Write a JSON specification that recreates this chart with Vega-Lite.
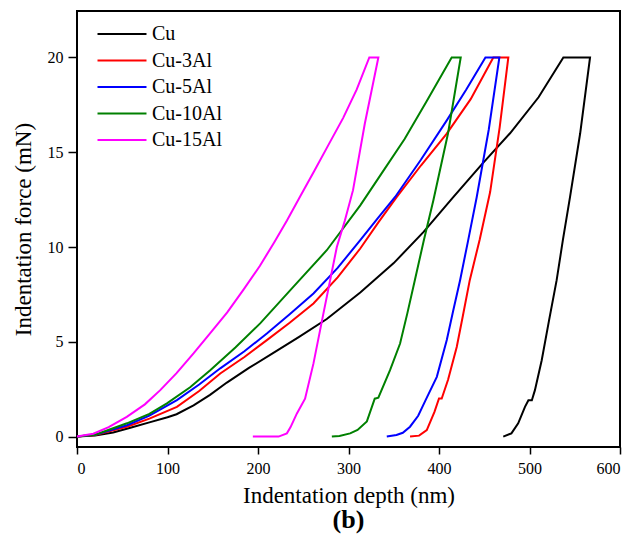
{
  "$schema": "https://vega.github.io/schema/vega-lite/v6.json",
  "width": 543,
  "height": 436,
  "autosize": "none",
  "padding": {"left": 77, "top": 11, "right": 13, "bottom": 96},
  "background": "white",
  "title": {"text": "(b)", "orient": "bottom", "anchor": "middle", "font": "Liberation Serif", "fontSize": 26, "fontWeight": "bold", "color": "black", "offset": 0},
  "config": {
    "view": {"stroke": "black", "strokeWidth": 2},
    "axis": {"labelFont": "Liberation Serif", "titleFont": "Liberation Serif", "labelColor": "black", "titleColor": "black", "tickColor": "black", "labelFontSize": 16, "titleFontSize": 23, "titleFontWeight": "normal", "grid": false, "domain": false, "tickWidth": 1.5}
  },
  "datasets": {
    "curves": [
      {"s":"Cu","i":0,"x":0,"y":0},{"s":"Cu","i":1,"x":20,"y":0.06},{"s":"Cu","i":2,"x":40,"y":0.22},{"s":"Cu","i":3,"x":60,"y":0.48},{"s":"Cu","i":4,"x":80,"y":0.75},{"s":"Cu","i":5,"x":100,"y":1.02},{"s":"Cu","i":6,"x":110,"y":1.18},{"s":"Cu","i":7,"x":128.8,"y":1.65},{"s":"Cu","i":8,"x":147,"y":2.2},{"s":"Cu","i":9,"x":165.6,"y":2.85},{"s":"Cu","i":10,"x":190,"y":3.62},{"s":"Cu","i":11,"x":217,"y":4.42},{"s":"Cu","i":12,"x":245,"y":5.25},{"s":"Cu","i":13,"x":276,"y":6.2},{"s":"Cu","i":14,"x":313,"y":7.6},{"s":"Cu","i":15,"x":350,"y":9.15},{"s":"Cu","i":16,"x":383,"y":10.8},{"s":"Cu","i":17,"x":416,"y":12.64},{"s":"Cu","i":18,"x":448,"y":14.4},{"s":"Cu","i":19,"x":478.5,"y":16.0},{"s":"Cu","i":20,"x":510,"y":17.9},{"s":"Cu","i":21,"x":537.4,"y":20},{"s":"Cu","i":22,"x":566.9,"y":20},{"s":"Cu","i":23,"x":556,"y":16.0},{"s":"Cu","i":24,"x":544.8,"y":12.64},{"s":"Cu","i":25,"x":537,"y":10.4},{"s":"Cu","i":26,"x":530,"y":8.25},{"s":"Cu","i":27,"x":521.5,"y":6.1},{"s":"Cu","i":28,"x":513.5,"y":4.03},{"s":"Cu","i":29,"x":506,"y":2.45},{"s":"Cu","i":30,"x":502.6,"y":1.92},{"s":"Cu","i":31,"x":498.8,"y":1.92},{"s":"Cu","i":32,"x":495,"y":1.57},{"s":"Cu","i":33,"x":487.5,"y":0.7},{"s":"Cu","i":34,"x":480,"y":0.17},{"s":"Cu","i":35,"x":471,"y":0},
      {"s":"Cu-3Al","i":0,"x":0,"y":0},{"s":"Cu-3Al","i":1,"x":20,"y":0.08},{"s":"Cu-3Al","i":2,"x":55.2,"y":0.52},{"s":"Cu-3Al","i":3,"x":80,"y":0.95},{"s":"Cu-3Al","i":4,"x":110.4,"y":1.57},{"s":"Cu-3Al","i":5,"x":135,"y":2.4},{"s":"Cu-3Al","i":6,"x":158.3,"y":3.33},{"s":"Cu-3Al","i":7,"x":185,"y":4.2},{"s":"Cu-3Al","i":8,"x":209.8,"y":5.09},{"s":"Cu-3Al","i":9,"x":235,"y":6.0},{"s":"Cu-3Al","i":10,"x":261.3,"y":7.02},{"s":"Cu-3Al","i":11,"x":288,"y":8.4},{"s":"Cu-3Al","i":12,"x":313,"y":9.92},{"s":"Cu-3Al","i":13,"x":333,"y":11.3},{"s":"Cu-3Al","i":14,"x":353.4,"y":12.64},{"s":"Cu-3Al","i":15,"x":380,"y":14.3},{"s":"Cu-3Al","i":16,"x":408.6,"y":15.98},{"s":"Cu-3Al","i":17,"x":435,"y":17.8},{"s":"Cu-3Al","i":18,"x":460,"y":20},{"s":"Cu-3Al","i":19,"x":476.6,"y":20},{"s":"Cu-3Al","i":20,"x":467,"y":16.3},{"s":"Cu-3Al","i":21,"x":456.5,"y":12.9},{"s":"Cu-3Al","i":22,"x":445,"y":10.4},{"s":"Cu-3Al","i":23,"x":434,"y":8.25},{"s":"Cu-3Al","i":24,"x":426.5,"y":6.4},{"s":"Cu-3Al","i":25,"x":419.6,"y":4.73},{"s":"Cu-3Al","i":26,"x":410,"y":3.0},{"s":"Cu-3Al","i":27,"x":403,"y":2.01},{"s":"Cu-3Al","i":28,"x":400,"y":2.01},{"s":"Cu-3Al","i":29,"x":395,"y":1.3},{"s":"Cu-3Al","i":30,"x":386.5,"y":0.34},{"s":"Cu-3Al","i":31,"x":378,"y":0.05},{"s":"Cu-3Al","i":32,"x":368,"y":0},
      {"s":"Cu-5Al","i":0,"x":0,"y":0},{"s":"Cu-5Al","i":1,"x":20,"y":0.09},{"s":"Cu-5Al","i":2,"x":55.2,"y":0.6},{"s":"Cu-5Al","i":3,"x":80,"y":1.1},{"s":"Cu-5Al","i":4,"x":110.4,"y":1.92},{"s":"Cu-5Al","i":5,"x":135,"y":2.75},{"s":"Cu-5Al","i":6,"x":158.3,"y":3.6},{"s":"Cu-5Al","i":7,"x":185,"y":4.5},{"s":"Cu-5Al","i":8,"x":209.8,"y":5.44},{"s":"Cu-5Al","i":9,"x":235,"y":6.45},{"s":"Cu-5Al","i":10,"x":261.3,"y":7.55},{"s":"Cu-5Al","i":11,"x":288,"y":8.9},{"s":"Cu-5Al","i":12,"x":313,"y":10.36},{"s":"Cu-5Al","i":13,"x":332,"y":11.5},{"s":"Cu-5Al","i":14,"x":351.5,"y":12.64},{"s":"Cu-5Al","i":15,"x":380,"y":14.6},{"s":"Cu-5Al","i":16,"x":408.6,"y":16.68},{"s":"Cu-5Al","i":17,"x":430,"y":18.3},{"s":"Cu-5Al","i":18,"x":451.3,"y":20},{"s":"Cu-5Al","i":19,"x":466.7,"y":20},{"s":"Cu-5Al","i":20,"x":455,"y":16.2},{"s":"Cu-5Al","i":21,"x":441.7,"y":12.64},{"s":"Cu-5Al","i":22,"x":432,"y":10.3},{"s":"Cu-5Al","i":23,"x":423.3,"y":8.25},{"s":"Cu-5Al","i":24,"x":415.5,"y":6.6},{"s":"Cu-5Al","i":25,"x":408.6,"y":5.09},{"s":"Cu-5Al","i":26,"x":397.6,"y":3.15},{"s":"Cu-5Al","i":27,"x":385.2,"y":1.92},{"s":"Cu-5Al","i":28,"x":377,"y":1.1},{"s":"Cu-5Al","i":29,"x":368,"y":0.52},{"s":"Cu-5Al","i":30,"x":360,"y":0.2},{"s":"Cu-5Al","i":31,"x":353,"y":0.08},{"s":"Cu-5Al","i":32,"x":342.3,"y":0},
      {"s":"Cu-10Al","i":0,"x":0,"y":0},{"s":"Cu-10Al","i":1,"x":20,"y":0.1},{"s":"Cu-10Al","i":2,"x":55.2,"y":0.7},{"s":"Cu-10Al","i":3,"x":80,"y":1.2},{"s":"Cu-10Al","i":4,"x":99.4,"y":1.75},{"s":"Cu-10Al","i":5,"x":125,"y":2.6},{"s":"Cu-10Al","i":6,"x":147.2,"y":3.5},{"s":"Cu-10Al","i":7,"x":175,"y":4.7},{"s":"Cu-10Al","i":8,"x":202.4,"y":5.97},{"s":"Cu-10Al","i":9,"x":239,"y":7.9},{"s":"Cu-10Al","i":10,"x":276,"y":9.83},{"s":"Cu-10Al","i":11,"x":313,"y":12.2},{"s":"Cu-10Al","i":12,"x":336.8,"y":13.9},{"s":"Cu-10Al","i":13,"x":362,"y":15.7},{"s":"Cu-10Al","i":14,"x":386.5,"y":17.7},{"s":"Cu-10Al","i":15,"x":414,"y":20},{"s":"Cu-10Al","i":16,"x":424,"y":20},{"s":"Cu-10Al","i":17,"x":410,"y":16.0},{"s":"Cu-10Al","i":18,"x":393.8,"y":12.47},{"s":"Cu-10Al","i":19,"x":383,"y":10.3},{"s":"Cu-10Al","i":20,"x":373.3,"y":8.25},{"s":"Cu-10Al","i":21,"x":365,"y":6.5},{"s":"Cu-10Al","i":22,"x":357,"y":4.91},{"s":"Cu-10Al","i":23,"x":345.9,"y":3.5},{"s":"Cu-10Al","i":24,"x":333,"y":2.05},{"s":"Cu-10Al","i":25,"x":329,"y":2.0},{"s":"Cu-10Al","i":26,"x":320.3,"y":0.8},{"s":"Cu-10Al","i":27,"x":310,"y":0.35},{"s":"Cu-10Al","i":28,"x":301.8,"y":0.17},{"s":"Cu-10Al","i":29,"x":290,"y":0.03},{"s":"Cu-10Al","i":30,"x":281.6,"y":0},
      {"s":"Cu-15Al","i":0,"x":0,"y":0},{"s":"Cu-15Al","i":1,"x":18,"y":0.15},{"s":"Cu-15Al","i":2,"x":35,"y":0.5},{"s":"Cu-15Al","i":3,"x":55,"y":1.04},{"s":"Cu-15Al","i":4,"x":75,"y":1.7},{"s":"Cu-15Al","i":5,"x":92,"y":2.45},{"s":"Cu-15Al","i":6,"x":110,"y":3.35},{"s":"Cu-15Al","i":7,"x":129,"y":4.4},{"s":"Cu-15Al","i":8,"x":147,"y":5.45},{"s":"Cu-15Al","i":9,"x":166,"y":6.55},{"s":"Cu-15Al","i":10,"x":184,"y":7.75},{"s":"Cu-15Al","i":11,"x":202,"y":9.0},{"s":"Cu-15Al","i":12,"x":218,"y":10.25},{"s":"Cu-15Al","i":13,"x":232,"y":11.4},{"s":"Cu-15Al","i":14,"x":247,"y":12.7},{"s":"Cu-15Al","i":15,"x":262,"y":14.0},{"s":"Cu-15Al","i":16,"x":278,"y":15.4},{"s":"Cu-15Al","i":17,"x":294,"y":16.8},{"s":"Cu-15Al","i":18,"x":309,"y":18.3},{"s":"Cu-15Al","i":19,"x":323,"y":20},{"s":"Cu-15Al","i":20,"x":333,"y":20},{"s":"Cu-15Al","i":21,"x":318,"y":16.5},{"s":"Cu-15Al","i":22,"x":305,"y":13.0},{"s":"Cu-15Al","i":23,"x":296,"y":11.4},{"s":"Cu-15Al","i":24,"x":287.1,"y":10.0},{"s":"Cu-15Al","i":25,"x":279.5,"y":8.2},{"s":"Cu-15Al","i":26,"x":272.3,"y":6.5},{"s":"Cu-15Al","i":27,"x":261.3,"y":3.86},{"s":"Cu-15Al","i":28,"x":252,"y":2.0},{"s":"Cu-15Al","i":29,"x":243,"y":1.22},{"s":"Cu-15Al","i":30,"x":236,"y":0.5},{"s":"Cu-15Al","i":31,"x":231.9,"y":0.17},{"s":"Cu-15Al","i":32,"x":222.7,"y":0},{"s":"Cu-15Al","i":33,"x":194.3,"y":0}
    ]
  },
  "data": {"name": "curves"},
  "mark": {"type": "line", "strokeWidth": 2, "interpolate": "linear"},
  "encoding": {
    "x": {"field": "x", "type": "quantitative", "scale": {"domain": [0, 600], "nice": false, "zero": false},
      "axis": {"values": [0, 100, 200, 300, 400, 500, 600], "title": "Indentation depth (nm)", "tickSize": 7, "labelPadding": 6, "titlePadding": 8}},
    "y": {"field": "y", "type": "quantitative", "scale": {"domain": [-0.55, 22.45], "nice": false, "zero": false},
      "axis": {"values": [0, 5, 10, 15, 20], "title": "Indentation force (mN)", "tickSize": 9, "labelPadding": 5, "titlePadding": 12}},
    "color": {"field": "s", "type": "nominal",
      "scale": {"domain": ["Cu", "Cu-3Al", "Cu-5Al", "Cu-10Al", "Cu-15Al"], "range": ["#000000", "#ff0000", "#0000ff", "#008000", "#ff00ff"]},
      "legend": {"title": null, "orient": "none", "legendX": 34, "legendY": 12, "padding": 0,
        "symbolType": "M-2.5,0H2.5", "symbolSize": 384, "symbolStrokeWidth": 2, "labelOffset": 19,
        "labelFont": "Liberation Serif", "labelFontSize": 20, "labelColor": "black", "rowPadding": 5.5}},
    "order": {"field": "i", "type": "quantitative"}
  }
}
